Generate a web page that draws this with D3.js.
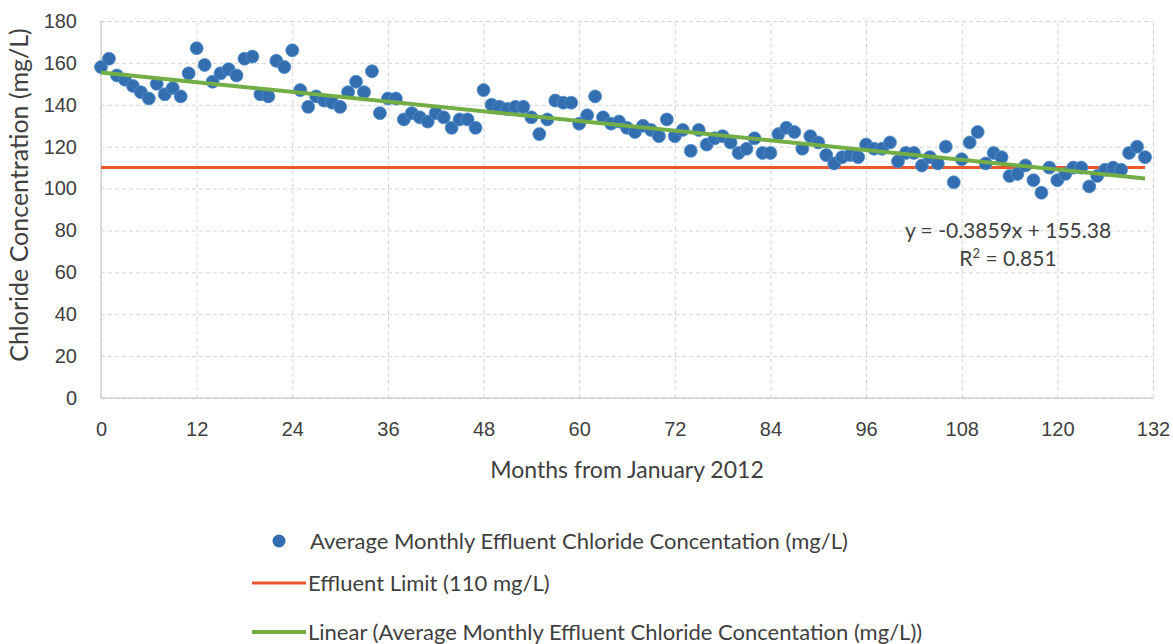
<!DOCTYPE html>
<html>
<head>
<meta charset="utf-8">
<script src="https://cdn.jsdelivr.net/npm/d3@7"></script>
<style>
  body { margin: 0; background: #fff; }
  svg { font-family: Lato, 'Open Sans', sans-serif; }
  .tick text { font-size: 20px; fill: #404040; }
  .axis-label { fill: #404040; }
  .legend text { font-size: 22px; fill: #404040; }
  .eq { font-size: 21px; fill: #404040; }
</style>
</head>
<body>
<svg width="1173" height="644"></svg>
<script>
// monthly average effluent chloride (mg/L), month 0 = January 2012
const chloride = [
  158, 162, 154, 152, 149, 146, 143, 150, 145, 148, 144, 155,
  167, 159, 151, 155, 157, 154, 162, 163, 145, 144, 161, 158,
  166, 147, 139, 144, 142, 141, 139, 146, 151, 146, 156, 136,
  143, 143, 133, 136, 134, 132, 136, 134, 129, 133, 133, 129,
  147, 140, 139, 138, 139, 139, 134, 126, 133, 142, 141, 141,
  131, 135, 144, 134, 131, 132, 129, 127, 130, 128, 125, 133,
  125, 128, 118, 128, 121, 124, 125, 122, 117, 119, 124, 117,
  117, 126, 129, 127, 119, 125, 122, 116, 112, 115, 116, 115,
  121, 119, 119, 122, 113, 117, 117, 111, 115, 112, 120, 103,
  114, 122, 127, 112, 117, 115, 106, 107, 111, 104, 98, 110,
  104, 107, 110, 110, 101, 106, 109, 110, 109, 117, 120, 115
];
const xTicks = [0, 12, 24, 36, 48, 60, 72, 84, 96, 108, 120, 132];
const yTicks = [0, 20, 40, 60, 80, 100, 120, 140, 160, 180];
const effluentLimit = 110;
// trendline from the spreadsheet
const slope = -0.3859;
const intercept = 155.38;
const rSquared = 0.851;

const seriesNames = [
  'Average Monthly Effluent Chloride Concentation (mg/L)',
  'Effluent Limit (110 mg/L)',
  'Linear (Average Monthly Effluent Chloride Concentation (mg/L))'
];

const svg = d3.select('svg');
const width = +svg.attr('width');
const height = +svg.attr('height');

const render = data => {
  const margin = { top: 21, right: 20, bottom: 246, left: 101 };
  const innerWidth = 1153 - margin.left;
  const innerHeight = height - margin.top - margin.bottom;

  const xScale = d3.scaleLinear().domain([0, 132]).range([0, innerWidth]);
  const yScale = d3.scaleLinear().domain([0, 180]).range([innerHeight, 0]);

  const g = svg.append('g')
    .attr('transform', `translate(${margin.left},${margin.top})`);

  // gridlines + labels
  const yAxis = d3.axisLeft(yScale).tickValues(yTicks).tickSize(-innerWidth).tickPadding(24);
  const yG = g.append('g').call(yAxis);
  yG.select('.domain').remove();
  yG.selectAll('.tick line').attr('stroke', '#d4d4d4').attr('stroke-dasharray', '4,3');
  yG.selectAll('.tick text').attr('font-family', null);

  const xAxis = d3.axisBottom(xScale).tickValues(xTicks).tickSize(-innerHeight).tickPadding(24);
  const xG = g.append('g').attr('transform', `translate(0,${innerHeight})`).call(xAxis);
  xG.select('.domain').remove();
  xG.selectAll('.tick line').attr('stroke', '#d4d4d4').attr('stroke-dasharray', '4,3');
  xG.selectAll('.tick text').attr('font-family', null);

  // plot frame (left and bottom)
  g.append('line').attr('x1', 0).attr('x2', 0).attr('y1', 0).attr('y2', innerHeight)
    .attr('stroke', '#bfbfbf');
  g.append('line').attr('x1', 0).attr('x2', innerWidth).attr('y1', innerHeight).attr('y2', innerHeight)
    .attr('stroke', '#bfbfbf');

  const lastMonth = data.length - 1;

  // effluent limit
  g.append('line')
    .attr('x1', xScale(0)).attr('x2', xScale(lastMonth))
    .attr('y1', yScale(effluentLimit)).attr('y2', yScale(effluentLimit))
    .attr('stroke', '#e9572b').attr('stroke-width', 3);

  // points
  g.selectAll('circle.pt')
    .data(data)
    .enter()
    .append('circle')
    .attr('class', 'pt')
    .attr('cx', (d, i) => xScale(i))
    .attr('cy', d => yScale(d))
    .attr('r', 6.5)
    .attr('fill', '#336eb0')
    .attr('stroke', '#5590cc')
    .attr('stroke-width', 0.8);

  // linear trend
  const trend = [0, lastMonth].map(m => [m, intercept + slope * m]);
  g.append('path')
    .datum(trend)
    .attr('fill', 'none')
    .attr('stroke', '#72ad45')
    .attr('stroke-width', 4)
    .attr('d', d3.line().x(d => xScale(d[0])).y(d => yScale(d[1])));

  // equation
  g.append('text').attr('class', 'eq')
    .attr('x', 1008 - margin.left).attr('y', 238 - margin.top)
    .attr('text-anchor', 'middle')
    .text(`y = ${slope}x + ${intercept}`);
  const r2 = g.append('text').attr('class', 'eq')
    .attr('x', 1008 - margin.left).attr('y', 266 - margin.top)
    .attr('text-anchor', 'middle');
  r2.append('tspan').text('R');
  r2.append('tspan').attr('baseline-shift', 'super').attr('font-size', '13px').text('2');
  r2.append('tspan').text(` = ${rSquared}`);

  // axis titles
  svg.append('text').attr('class', 'axis-label')
    .attr('x', 627).attr('y', 478)
    .attr('text-anchor', 'middle')
    .attr('font-size', 23)
    .text('Months from January 2012');
  svg.append('text').attr('class', 'axis-label')
    .attr('transform', 'translate(28,195) rotate(-90)')
    .attr('text-anchor', 'middle')
    .attr('font-size', 25)
    .text('Chloride Concentration (mg/L)');

  // legend
  const legend = svg.append('g').attr('class', 'legend');
  legend.append('circle').attr('cx', 279).attr('cy', 541).attr('r', 6.5)
    .attr('fill', '#336eb0');
  legend.append('text').attr('x', 310).attr('y', 549).text(seriesNames[0]);
  legend.append('line').attr('x1', 252).attr('x2', 306).attr('y1', 583).attr('y2', 583)
    .attr('stroke', '#e9572b').attr('stroke-width', 3);
  legend.append('text').attr('x', 308).attr('y', 591).text(seriesNames[1]);
  legend.append('line').attr('x1', 252).attr('x2', 306).attr('y1', 632).attr('y2', 632)
    .attr('stroke', '#72ad45').attr('stroke-width', 4);
  legend.append('text').attr('x', 308).attr('y', 640).text(seriesNames[2]);
};

render(chloride);
</script>
</body>
</html>
